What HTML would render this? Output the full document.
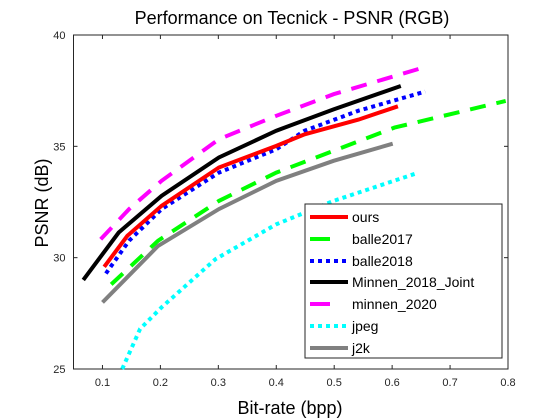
<!DOCTYPE html>
<html><head><meta charset="utf-8"><style>
body{margin:0;background:#fff;}
svg{display:block;font-family:"Liberation Sans",sans-serif;}
</style></head><body>
<svg id="chart" width="560" height="420" viewBox="0 0 560 420">
<rect width="560" height="420" fill="#fff"/>
<text x="292" y="24" text-anchor="middle" font-size="18">Performance on Tecnick - PSNR (RGB)</text>
<g id="axes"></g>
<g id="series"></g>
<g id="legend"></g>
<text x="290" y="414" text-anchor="middle" font-size="18">Bit-rate (bpp)</text>
<text x="48" y="203" text-anchor="middle" font-size="18" transform="rotate(-90 48 203)">PSNR (dB)</text>
</svg>
<script>
const xTicks=[0.1,0.2,0.3,0.4,0.5,0.6,0.7,0.8];
const yTicks=[25,30,35,40];
const seriesNames=["ours","balle2017","balle2018","Minnen_2018_Joint","minnen_2020","jpeg","j2k"];
const oursX=[0.103,0.143,0.202,0.301,0.4,0.449,0.542,0.61];
const oursY=[29.59,30.98,32.33,34.05,35.02,35.54,36.2,36.8];
const balle2017X=[0.115,0.196,0.301,0.4,0.499,0.604,0.796];
const balle2017Y=[28.8,30.76,32.55,33.82,34.8,35.84,37.04];
const balle2018X=[0.106,0.146,0.202,0.301,0.4,0.449,0.542,0.657];
const balle2018Y=[29.29,30.76,32.18,33.82,34.87,35.7,36.6,37.46];
const minnenJointX=[0.067,0.128,0.202,0.301,0.4,0.499,0.615];
const minnenJointY=[29.0,31.13,32.78,34.5,35.7,36.66,37.71];
const minnen2020X=[0.097,0.146,0.202,0.301,0.4,0.499,0.663];
const minnen2020Y=[30.83,32.18,33.45,35.32,36.37,37.34,38.61];
const jpegX=[0.134,0.165,0.202,0.295,0.4,0.499,0.641];
const jpegY=[25.0,26.8,27.77,29.93,31.5,32.55,33.78];
const j2kX=[0.1,0.196,0.301,0.4,0.499,0.601];
const j2kY=[27.99,30.53,32.18,33.45,34.35,35.12];

const L=73.5,R=508,T=35,B=369;
const xMin=0.05,xMax=0.8,yMin=25,yMax=40;
function sx(v){return L+(v-xMin)/(xMax-xMin)*(R-L);}
function sy(v){return B-(v-yMin)/(yMax-yMin)*(B-T);}
const NS="http://www.w3.org/2000/svg";
function mk(tag,attrs,parent){const e=document.createElementNS(NS,tag);for(const k in attrs)e.setAttribute(k,attrs[k]);parent.appendChild(e);return e;}
const axes=document.getElementById('axes');
const box=mk('rect',{x:L,y:T,width:R-L,height:B-T,fill:'none',stroke:'#262626','stroke-width':1},axes);


xTicks.forEach(t=>{
  const x=sx(t);
  mk('line',{x1:x,y1:B,x2:x,y2:B-4,stroke:'#262626'},axes);
  mk('line',{x1:x,y1:T,x2:x,y2:T+4,stroke:'#262626'},axes);
  const tx=mk('text',{x:x,y:B+17,'text-anchor':'middle','font-size':11,fill:'#262626'},axes);
  tx.textContent=t.toFixed(1);
  
  
});
yTicks.forEach(t=>{
  const y=sy(t);
  mk('line',{x1:L,y1:y,x2:L+4,y2:y,stroke:'#262626'},axes);
  mk('line',{x1:R,y1:y,x2:R-4,y2:y,stroke:'#262626'},axes);
  const tx=mk('text',{x:L-8,y:y+4,'text-anchor':'end','font-size':11,fill:'#262626'},axes);
  tx.textContent=t;
  
  
});
const styles=[
 {c:'#ff0000',d:''},
 {c:'#00ff00',d:'16 11'},
 {c:'#0000ff',d:'4 4'},
 {c:'#000000',d:''},
 {c:'#ff00ff',d:'16 11'},
 {c:'#00ffff',d:'4 4'},
 {c:'#808080',d:''}
];
const xs=[oursX,balle2017X,balle2018X,minnenJointX,minnen2020X,jpegX,j2kX];
const ys=[oursY,balle2017Y,balle2018Y,minnenJointY,minnen2020Y,jpegY,j2kY];
const drawOrder=[6,5,4,3,1,2,0];
const sg=document.getElementById('series');
drawOrder.forEach(i=>{
  const pts=xs[i].map((v,j)=>sx(v).toFixed(1)+','+sy(ys[i][j]).toFixed(1)).join(' ');
  const p=mk('polyline',{points:pts,fill:'none',stroke:styles[i].c,'stroke-width':4},sg);
  if(styles[i].d)p.setAttribute('stroke-dasharray',styles[i].d);
  
  
});
const lg=document.getElementById('legend');
const lb=mk('rect',{x:305,y:204,width:197,height:154,fill:'#fff',stroke:'#262626','stroke-width':1},lg);


const rowsY=[217,239,261,282,304,326,348];
seriesNames.forEach((n,i)=>{
  const y=rowsY[i];
  const ln=mk('line',{x1:310,y1:y,x2:348,y2:y,stroke:styles[i].c,'stroke-width':4},lg);
  if(styles[i].d==='16 11'){ln.setAttribute('x2',330);}
  else if(styles[i].d)ln.setAttribute('stroke-dasharray',styles[i].d);
  
  
  const t=mk('text',{x:352,y:y+5,'font-size':14,fill:'#000'},lg);
  t.textContent=n;
  
  
});
</script>
</body></html>
